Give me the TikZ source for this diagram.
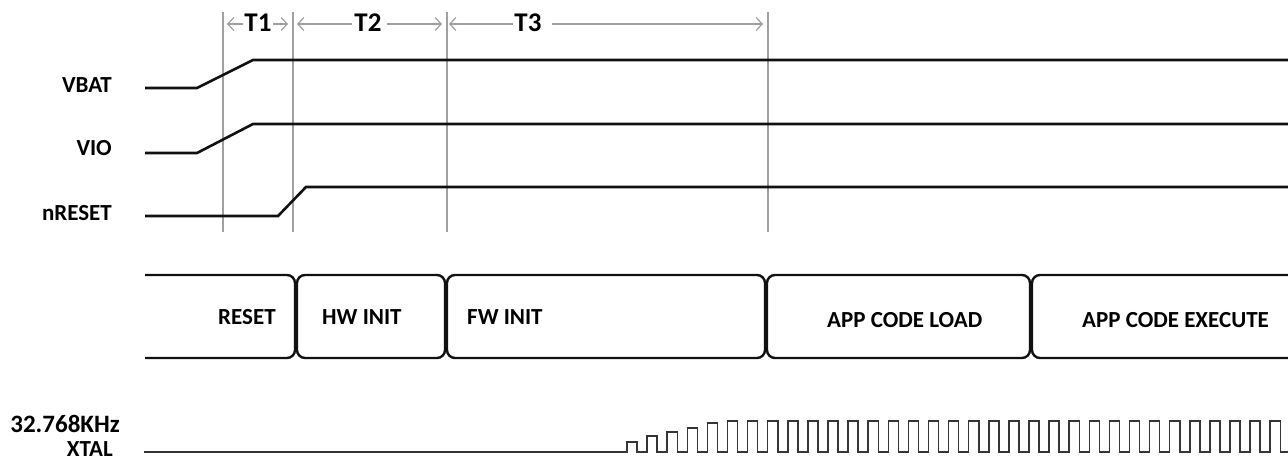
\documentclass[tikz,border=0pt]{standalone}
\usepackage{fontspec}
\setmainfont{Carlito}
\usepackage{xcolor}
\usepackage{tikz}
\usetikzlibrary{
    arrows.meta,
    calc
}
\definecolor{tdgray}{HTML}{A0A0A0}
\definecolor{tdblack}{HTML}{111111}
\tikzset{
    % Signal trace
    sigtrace/.style={
        line width=2.6pt,
        draw=tdblack
    },
    % Bus segment
    busseg/.style={
        line width=2.4pt,
        draw=tdblack,
        rounded corners=8pt
    },
    % Clock trace
    clktrace/.style={
        line width=1.5pt,
        draw=tdblack!85
    },
    % Timing mark line
    tickline/.style={
        line width=1.2pt,
        draw=tdgray
    },
    % Timing arrow
    tarrow/.style={
        line width=1.2pt,
        draw=tdgray,
        arrows={Straight Barb[length=6pt,width=13pt]-}
    },
    % Signal name
    signame/.style={
        anchor=east,
        inner sep=0pt,
        font=\fontsize{23}{27}\selectfont\bfseries
    },
    % State name
    statename/.style={
        anchor=west,
        inner sep=0pt,
        font=\fontsize{23}{27}\selectfont\bfseries
    },
    % Timing label
    tlabel/.style={
        inner xsep=1pt,
        inner ysep=0pt,
        font=\fontsize{27}{31}\selectfont\bfseries
    }
}

\begin{document}
\begin{tikzpicture}[x=1pt, y=-1pt]

    \useasboundingbox (0,0) rectangle (1288,461);

    % Timing marks
    \foreach \gx/\gname in {223/g1, 293/g2, 447/g3, 768/g4} {
        \coordinate (\gname) at (\gx,24);
        \draw[tickline] (\gx,12) -- (\gx,232);
    }

    % Timing intervals
    \node[tlabel] (t1) at (258,23) {T1};
    \node[tlabel] (t2) at (368,23) {T2};
    \node[tlabel] (t3) at (528,23) {T3};
    \draw[tarrow] ([xshift=4pt]g1) -- (t1.west |- g1);
    \draw[tarrow] ([xshift=-5pt]g2) -- (t1.east |- g2);
    \draw[tarrow] ([xshift=4pt]g2) -- ([xshift=-1pt]t2.west |- g2);
    \draw[tarrow] ([xshift=-5pt]g3) -- ([xshift=4pt]t2.east |- g3);
    \draw[tarrow] ([xshift=2pt]g3) -- (t3.west |- g3);
    \draw[tarrow] ([xshift=-5pt]g4) -- ([xshift=9pt]t3.east |- g4);

    % Supply and reset signals
    \node[signame] (vbat) at (112,85) {VBAT};
    \node[signame] (vio) at (112,148) {VIO};
    \node[signame] (nreset) at (112,213) {nRESET};
    \draw[sigtrace] (145,88) -- (197,88) -- (253,60) -- (1290,60);
    \draw[sigtrace] (145,153) -- (197,153) -- (253,124) -- (1290,124);
    \draw[sigtrace] (145,216) -- (278,216) -- (306,187) -- (1290,187);

    % Boot states
    \draw[busseg] (145,275) -- (295,275) -- (295,358) -- (145,358);
    \draw[busseg] (297,275) rectangle (445,358);
    \draw[busseg] (447,275) rectangle (765,358);
    \draw[busseg] (767,275) rectangle (1030,358);
    \draw[busseg] (1300,275) -- (1032,275) -- (1032,358) -- (1300,358);
    \node[statename] (reset) at (218,317) {RESET};
    \node[statename] (hwinit) at (322,317) {HW INIT};
    \node[statename] (fwinit) at (467,317) {FW INIT};
    \node[statename] (appload) at (827,320) {APP CODE LOAD};
    \node[statename] (appexec) at (1082,320) {APP CODE EXECUTE};

    % Crystal clock
    \node[signame, font=\fontsize{25}{29}\selectfont\bfseries] (freq) at (120,424) {32.768KHz};
    \node[signame] (xtal) at (113,449) {XTAL};
    \draw[clktrace] (144,452) -- (627,452)
        \foreach \h in {10,16,20,24,29} {
            -- ++(0,-\h) -- ++(10.05,0) -- ++(0,\h) -- ++(10.05,0)
        }
        \foreach \k in {5,...,32} {
            -- ++(0,-31) -- ++(10.05,0) -- ++(0,31) -- ++(10.05,0)
        };

\end{tikzpicture}
\end{document}
